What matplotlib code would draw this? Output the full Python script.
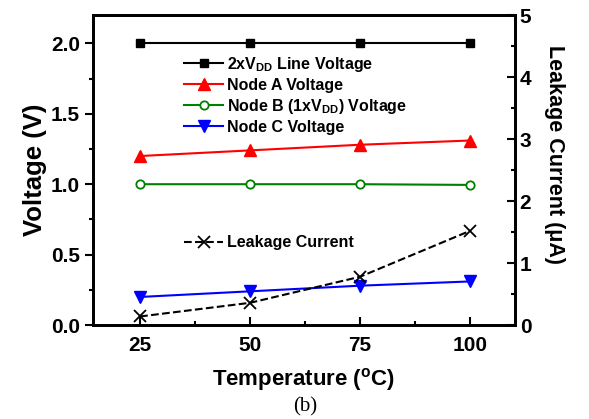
import matplotlib.pyplot as plt

plt.rcParams['font.family'] = ['Liberation Sans', 'DejaVu Sans']
plt.rcParams['font.weight'] = 'bold'
plt.rcParams['mathtext.default'] = 'regular'

# temperature sweep and measured values
temps = [25, 50, 75, 100]
line_2vdd = [2.0, 2.0, 2.0, 2.0]
node_a = [1.20, 1.24, 1.28, 1.31]
node_b = [1.00, 1.00, 1.00, 0.995]
node_c = [0.20, 0.24, 0.28, 0.31]
leakage = [0.14, 0.36, 0.78, 1.52]

fig = plt.figure(figsize=(5.89, 4.19), dpi=100)
ax = fig.add_axes([0.158, 0.224, 0.716, 0.740])
ax2 = ax.twinx()

h1, = ax.plot(temps, line_2vdd, '-s', color='black', ms=6, lw=1.5,
              label='2xV$_{\\mathregular{DD}}$ Line Voltage')
h2, = ax.plot(temps, node_a, '-^', color='red', ms=8, lw=1.5,
              label='Node A Voltage')
h3, = ax.plot(temps, node_b, '-o', color='green', ms=6, lw=1.5,
              mfc='white', mew=1.3, label='Node B (1xV$_{\\mathregular{DD}}$) Voltage')
h4, = ax.plot(temps, node_c, '-v', color='blue', ms=8, lw=1.5,
              label='Node C Voltage')
h5, = ax2.plot(temps, leakage, '--x', color='black', ms=9, mew=1.3, lw=1.5,
               label='Leakage Current')

ax.set_xlim(14.3, 110.2)
ax.set_ylim(0, 2.2)
ax2.set_ylim(0, 5)

ax.set_xticks(temps)
ax.set_xticks([37.5, 62.5, 87.5], minor=True)
ax.set_yticks([0, 0.5, 1.0, 1.5, 2.0])
ax.set_yticklabels(['0.0', '0.5', '1.0', '1.5', '2.0'])
ax.set_yticks([0.25, 0.75, 1.25, 1.75], minor=True)
ax2.set_yticks([0, 1, 2, 3, 4, 5])
ax2.set_yticks([0.5, 1.5, 2.5, 3.5, 4.5], minor=True)

ax.tick_params(axis='y', which='both', direction='out', width=1.5, labelsize=15)
ax.tick_params(axis='y', which='major', length=6)
ax.tick_params(axis='y', which='minor', length=3)
ax.tick_params(axis='x', which='both', direction='in', width=1.5, labelsize=15, pad=8)
ax.tick_params(axis='x', which='major', length=6)
ax.tick_params(axis='x', which='minor', length=3)
ax2.tick_params(axis='y', which='both', direction='in', width=1.5, labelsize=15)
ax2.tick_params(axis='y', which='major', length=6)
ax2.tick_params(axis='y', which='minor', length=3)

for a in (ax, ax2):
    for s in a.spines.values():
        s.set_linewidth(2)

ax.set_xlabel('Temperature ($^{\\mathregular{o}}$C)', fontsize=16, fontweight='bold',
              labelpad=8)
ax.set_ylabel('Voltage (V)', fontsize=18.5, fontweight='bold', va='center')
ax.yaxis.set_label_coords(-0.137, 0.5)
ax2.set_ylabel('Leakage Current (\u03bcA)', fontsize=15.5, fontweight='bold',
               rotation=270, va='center')
ax2.yaxis.set_label_coords(1.095, 0.55)

leg_kw = dict(loc='upper left', frameon=False, prop={'size': 11.5, 'weight': 'bold'},
              handlelength=2.45, handletextpad=0.25, borderpad=0, borderaxespad=0)
leg1 = ax2.legend(handles=[h1, h2, h3, h4], bbox_to_anchor=(0.216, 0.872),
                  labelspacing=0.25, **leg_kw)
ax2.add_artist(leg1)
ax2.legend(handles=[h5], bbox_to_anchor=(0.216, 0.29), **leg_kw)

fig.text(0.518, 0.028, '(b)', ha='center', va='center', fontsize=15,
         family='Liberation Serif', fontweight='normal')

fig.savefig('out.png', dpi=100)
